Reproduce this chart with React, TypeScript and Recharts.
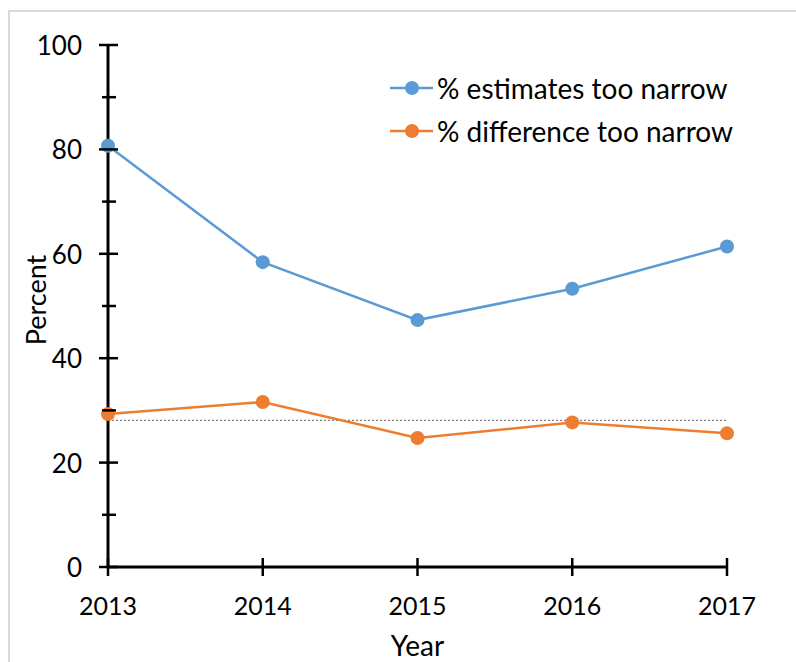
import { LineChart, Line, XAxis, YAxis, ReferenceLine, Legend } from 'recharts'

document.body.style.margin = '0'

const years = [2013, 2014, 2015, 2016, 2017]
const estimatesTooNarrow = [80.7, 58.4, 47.3, 53.3, 61.4]
const differenceTooNarrow = [29.3, 31.6, 24.7, 27.7, 25.6]
const overallLevel = 28.1
const yTicks = [0, 10, 20, 30, 40, 50, 60, 70, 80, 90, 100]

const FONT = 'Lato, "Open Sans", sans-serif'
const BLUE = '#5B9BD5'
const ORANGE = '#ED7D31'

const series = [
  { key: 'estimates', name: '% estimates too narrow', color: BLUE },
  { key: 'difference', name: '% difference too narrow', color: ORANGE },
]

const data = years.map((year, i) => ({
  year,
  estimates: estimatesTooNarrow[i],
  difference: differenceTooNarrow[i],
}))

function YTick({ x, y, payload }: any) {
  const major = payload.value % 20 === 0
  return (
    <g>
      <line x1={x - (major ? 9 : 6)} x2={x + (major ? 10 : 8)} y1={y} y2={y} stroke="#000" strokeWidth={2.5} />
      {major && (
        <text x={x - 26} y={y} textAnchor="end" dominantBaseline="central" fontSize={26} fontFamily={FONT} fill="#000">
          {payload.value}
        </text>
      )}
    </g>
  )
}

function XTick({ x, y, payload }: any) {
  return (
    <g>
      <line x1={x} x2={x} y1={y - 9} y2={y + 9} stroke="#000" strokeWidth={2.5} />
      <text x={x} y={y + 38} textAnchor="middle" dominantBaseline="central" fontSize={25} fontFamily={FONT} fill="#000">
        {payload.value}
      </text>
    </g>
  )
}

function LegendBox() {
  return (
    <div style={{ fontFamily: FONT, fontSize: 28, color: '#000' }}>
      {series.map((s) => (
        <div key={s.key} style={{ display: 'flex', alignItems: 'center', height: 43 }}>
          <svg width={47} height={20}>
            <line x1={0} x2={43} y1={10} y2={10} stroke={s.color} strokeWidth={2.5} />
            <circle cx={22} cy={10} r={7} fill={s.color} />
          </svg>
          <span style={{ whiteSpace: 'nowrap' }}>{s.name}</span>
        </div>
      ))}
    </div>
  )
}

export default function App() {
  return (
    <div style={{ position: 'relative', width: 796, height: 662, background: '#fff' }}>
      <div
        style={{
          position: 'absolute',
          left: 8,
          top: 10,
          width: 788,
          height: 652,
          boxSizing: 'border-box',
          borderTop: '2px solid #d9d9d9',
          borderLeft: '2px solid #d9d9d9',
        }}
      />
      <LineChart width={796} height={662} data={data} margin={{ top: 45, right: 69, left: 0, bottom: 0 }}>
        <XAxis
          dataKey="year"
          type="number"
          domain={[2013, 2017]}
          ticks={years}
          height={95}
          tickSize={0}
          tickMargin={0}
          tick={<XTick />}
          axisLine={{ stroke: '#000', strokeWidth: 3 }}
          label={{
            content: ({ viewBox }: any) => (
              <text
                x={viewBox.x + viewBox.width / 2}
                y={viewBox.y + 78}
                textAnchor="middle"
                dominantBaseline="central"
                fontSize={28}
                fontFamily={FONT}
                fill="#000"
              >
                Year
              </text>
            ),
          }}
        />
        <YAxis
          type="number"
          domain={[0, 100]}
          ticks={yTicks}
          width={108}
          tickSize={0}
          tickMargin={0}
          tick={<YTick />}
          axisLine={{ stroke: '#000', strokeWidth: 3 }}
          label={{
            content: ({ viewBox }: any) => {
              const cx = viewBox.x + 35
              const cy = viewBox.y + viewBox.height / 2 - 6
              return (
                <text
                  x={cx}
                  y={cy}
                  transform={`rotate(-90 ${cx} ${cy})`}
                  textAnchor="middle"
                  dominantBaseline="central"
                  fontSize={27}
                  fontFamily={FONT}
                  fill="#000"
                >
                  Percent
                </text>
              )
            },
          }}
        />
        <ReferenceLine y={overallLevel} stroke="#7f7f7f" strokeWidth={1.2} strokeDasharray="2 2" />
        {series.map((s) => (
          <Line
            key={s.key}
            dataKey={s.key}
            name={s.name}
            stroke={s.color}
            strokeWidth={2.5}
            dot={{ r: 7, fill: s.color, stroke: 'none' }}
            activeDot={false}
            isAnimationActive={false}
          />
        ))}
        <Legend
          layout="vertical"
          align="center"
          verticalAlign="middle"
          content={<LegendBox />}
          wrapperStyle={{ top: 66, left: 390, width: 'auto' }}
        />
      </LineChart>
    </div>
  )
}
